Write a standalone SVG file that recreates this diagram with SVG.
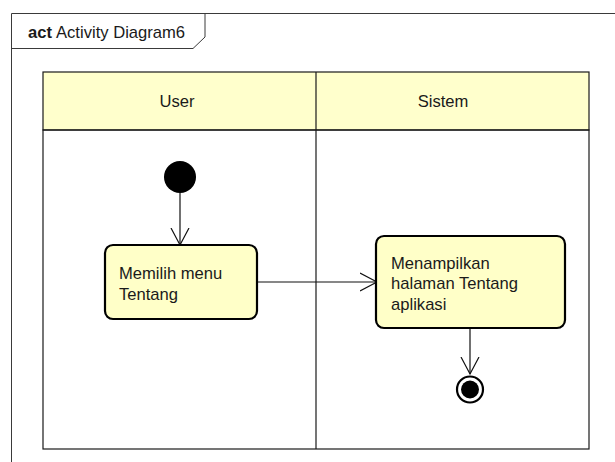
<svg xmlns="http://www.w3.org/2000/svg" width="615" height="462" viewBox="0 0 615 462">
  <style>
    .frame { fill: none; stroke: #3a3a3a; stroke-width: 1; }
    .lane { fill: none; stroke: #1a1a1a; stroke-width: 1.2; }
    .head { fill: #ffffcc; stroke: #1a1a1a; stroke-width: 1.2; }
    .action { fill: #ffffc8; stroke: #000; stroke-width: 2.2; }
    .txt { font-family: "Liberation Sans", Arial, sans-serif; font-size: 16.6px; fill: #1a1a1a; }
    .edge { fill: none; stroke: #111; stroke-width: 1.2; }
  </style>
  <defs>
    <marker id="open" viewBox="0 0 20 20" refX="17" refY="10" markerWidth="20" markerHeight="20" markerUnits="userSpaceOnUse" orient="auto">
      <path d="M0,1 L17,10 L0,19" fill="none" stroke="#111" stroke-width="1.2"/>
    </marker>
  </defs>

  <!-- diagram frame and its name tab -->
  <g id="frame">
    <path class="frame" d="M11.5,462 V13.5 H615"/>
    <path class="frame" d="M11.5,48.5 H193 L205,37 V13.5"/>
    <text x="28" y="38" class="txt" font-size="17" font-weight="bold">act</text>
    <text x="56" y="38" class="txt" font-size="17">Activity Diagram6</text>
  </g>

  <!-- swimlanes -->
  <g id="lanes">
    <rect class="head" x="43" y="72" width="546" height="58"/>
    <rect class="lane" x="43" y="130" width="546" height="319"/>
    <line class="lane" x1="316" y1="72" x2="316" y2="449"/>
    <text x="177" y="107" class="txt" text-anchor="middle">User</text>
    <text x="443" y="107" class="txt" text-anchor="middle">Sistem</text>
  </g>

  <!-- connectors -->
  <g id="connectors">
    <line class="edge" x1="180" y1="193" x2="180" y2="245" marker-end="url(#open)"/>
    <line class="edge" x1="257" y1="282" x2="377" y2="282" marker-end="url(#open)"/>
    <line class="edge" x1="470" y1="328" x2="470" y2="374" marker-end="url(#open)"/>
  </g>

  <g id="start">
    <circle cx="180" cy="177" r="16" fill="#000"/>
  </g>

  <g id="pilihMenu">
    <rect class="action" x="105" y="245" width="152" height="74" rx="8"/>
    <text class="txt" x="119" y="279">Memilih menu</text>
    <text class="txt" x="119" y="299.5">Tentang</text>
  </g>

  <g id="tampilHalaman">
    <rect class="action" x="376" y="236" width="189" height="92" rx="8"/>
    <text class="txt" x="391" y="268.5">Menampilkan</text>
    <text class="txt" x="391" y="289">halaman Tentang</text>
    <text class="txt" x="391" y="309.5">aplikasi</text>
  </g>

  <g id="end">
    <circle cx="470" cy="389.5" r="13" fill="#fff" stroke="#000" stroke-width="2.2"/>
    <circle cx="470" cy="389.5" r="9" fill="#000"/>
  </g>
</svg>
